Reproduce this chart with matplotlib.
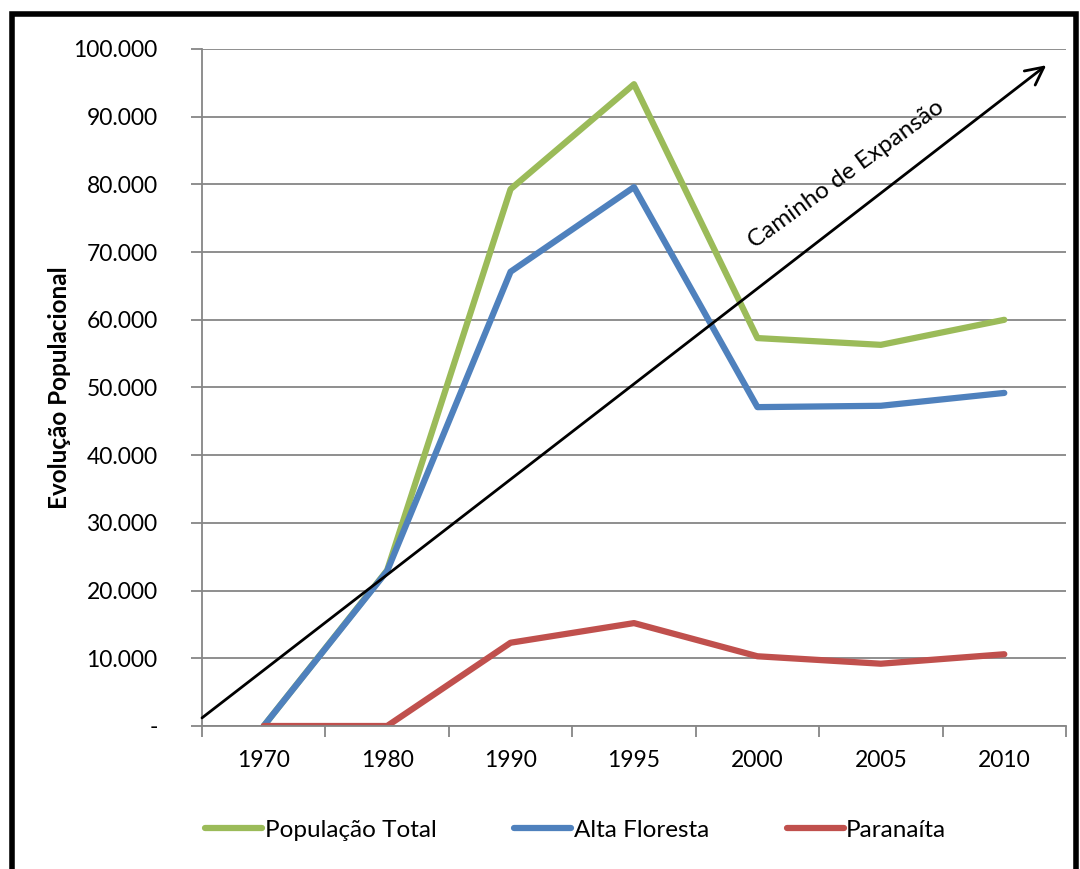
import numpy as np
import matplotlib.pyplot as plt
from matplotlib.patches import Rectangle
from matplotlib.ticker import FuncFormatter

plt.rcParams['font.family'] = ['Lato', 'DejaVu Sans']

anos = ["1970", "1980", "1990", "1995", "2000", "2005", "2010"]
pop_total = [0, 23000, 79300, 94800, 57300, 56300, 60000]
alta_floresta = [0, 22900, 67100, 79600, 47100, 47300, 49200]
paranaita = [0, 0, 12300, 15200, 10300, 9200, 10600]

verde = "#9BBB59"
azul = "#4F81BD"
vermelho = "#C0504D"
cinza = "#868686"

fig = plt.figure(figsize=(10.8, 8.69), dpi=100)
ax = fig.add_axes([202 / 1080, 1 - 726 / 869, 864 / 1080, 677 / 869])

x = np.arange(len(anos))
ax.plot(x, pop_total, color=verde, lw=4.5, solid_capstyle='round', label="População Total")
ax.plot(x, alta_floresta, color=azul, lw=4.5, solid_capstyle='round', label="Alta Floresta")
ax.plot(x, paranaita, color=vermelho, lw=4.5, solid_capstyle='round', label="Paranaíta")

ax.set_xlim(-0.5, len(anos) - 0.5)
ax.set_ylim(0, 100000)

# y axis
ax.set_yticks(np.arange(0, 100001, 10000))
ax.yaxis.set_major_formatter(FuncFormatter(
    lambda v, p: "-" if v == 0 else f"{int(v):,}".replace(",", ".")))
ax.grid(axis='y', color=cinza, lw=1.3)
ax.set_axisbelow(True)

# x axis: labels centred, ticks on the boundaries
ax.set_xticks(x)
ax.set_xticklabels(anos)
ax.set_xticks(np.arange(-0.5, len(anos), 1), minor=True)
ax.tick_params(axis='x', which='major', length=0, pad=17, labelsize=16.5)
ax.tick_params(axis='x', which='minor', length=8, width=1.3, color=cinza)
ax.tick_params(axis='y', length=8, width=1.3, color=cinza, pad=24, labelsize=16.5)

for s in ['top', 'right']:
    ax.spines[s].set_visible(False)
for s in ['left', 'bottom']:
    ax.spines[s].set_color(cinza)
    ax.spines[s].set_linewidth(1.3)

ax.set_ylabel("Evolução Populacional", fontsize=17.5, fontweight='bold', labelpad=2)

# caminho de expansao
ax.annotate("", xy=(6.34, 97600), xytext=(-0.5, 1200),
            arrowprops=dict(arrowstyle='->', color='black', lw=2,
                            mutation_scale=32, shrinkA=0, shrinkB=0),
            annotation_clip=False)
ax.text(4.72, 81500, "Caminho de Expansão", rotation=36, fontsize=17.5,
        ha='center', va='center', rotation_mode='anchor')

leg = fig.legend(loc='center left', bbox_to_anchor=(205 / 1080, 1 - 830 / 869), ncol=3,
                 frameon=False, fontsize=17.5, handlelength=2.35, handletextpad=0.1,
                 columnspacing=3.2, borderpad=0, borderaxespad=0)

# moldura
fig.patches.append(Rectangle((12 / 1080, -0.1), 1064 / 1080, 1.1 - 14 / 869,
                             transform=fig.transFigure, fill=False,
                             edgecolor='black', lw=4, clip_on=False))

plt.savefig("out.png", dpi=100)
